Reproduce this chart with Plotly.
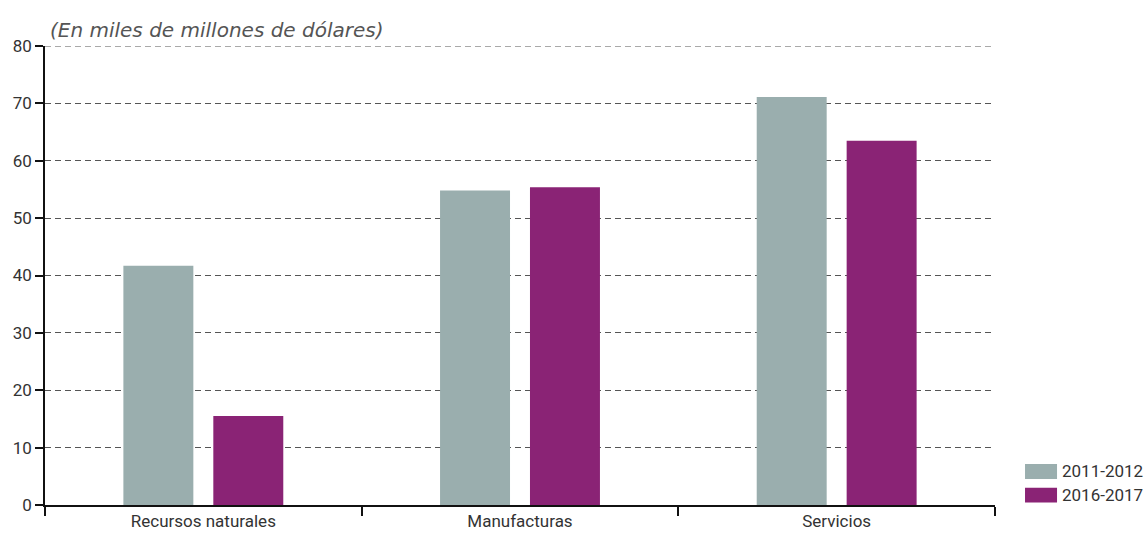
import plotly.graph_objects as go

categories = ["Recursos naturales", "Manufacturas", "Servicios"]
series_names = ["2011-2012", "2016-2017"]
values_2011_2012 = [41.7, 54.8, 71.1]
values_2016_2017 = [15.5, 55.4, 63.5]
y_ticks = [0, 10, 20, 30, 40, 50, 60, 70, 80]

colors = ["#9aaeae", "#8a2375"]
label_family = "Liberation Sans Narrow, Roboto, sans-serif"
tick_font = dict(family=label_family, size=17, color="#333333")
grid_color = "#555555"
grid_dash = "6px,4px"

fig = go.Figure()
for name, vals, col in zip(series_names, [values_2011_2012, values_2016_2017], colors):
    fig.add_trace(go.Bar(x=categories, y=vals, name=name, showlegend=False,
                         marker=dict(color=col, line=dict(width=0))))

# Hand-built legend at the lower right, outside the plotting area
legend_shapes = []
legend_notes = []
row_centers = [0.0730, 0.0215]
for name, col, yc in zip(series_names, colors, row_centers):
    legend_shapes.append(dict(
        type="rect", xref="paper", yref="paper",
        x0=1.0316, x1=1.0653, y0=yc - 0.0161, y1=yc + 0.0161,
        fillcolor=col, line=dict(width=0), layer="above",
    ))
    legend_notes.append(dict(
        text=name, xref="paper", yref="paper",
        x=1.0684, y=yc, xanchor="left", yanchor="middle",
        showarrow=False,
        font=dict(family=label_family, size=17, color="#333333"),
    ))

# Dashed line at the top of the value axis (grid line at 80)
top_line = dict(
    type="line", xref="paper", yref="y",
    x0=0, x1=1, y0=y_ticks[-1], y1=y_ticks[-1],
    line=dict(color=grid_color, width=1, dash=grid_dash), layer="below",
)

fig.update_layout(
    width=1147,
    height=543,
    margin=dict(l=45, r=152, t=46, b=31),
    paper_bgcolor="white",
    plot_bgcolor="white",
    barmode="group",
    bargap=0.432,
    bargroupgap=0.222,
    showlegend=False,
    shapes=legend_shapes + [top_line],
    annotations=[
        dict(
            text="<i>(En miles de millones de dólares)</i>",
            xref="paper", yref="paper",
            x=0.003, y=1.0, xanchor="left", yanchor="bottom",
            yshift=2,
            showarrow=False,
            font=dict(family="DejaVu Sans, sans-serif", size=20, color="#555555"),
        )
    ] + legend_notes,
)

fig.update_xaxes(
    type="category",
    tickson="boundaries",
    ticks="outside",
    ticklen=9,
    tickwidth=1.5,
    tickcolor="#111111",
    showline=True,
    linecolor="#111111",
    linewidth=1.5,
    showgrid=False,
    tickfont=tick_font,
)

fig.update_yaxes(
    range=[0, 80],
    tickvals=y_ticks,
    ticks="outside",
    ticklen=8,
    tickwidth=1.5,
    tickcolor="#111111",
    showline=True,
    linecolor="#111111",
    linewidth=1.5,
    showgrid=True,
    gridcolor=grid_color,
    gridwidth=1,
    griddash=grid_dash,
    zeroline=False,
    tickfont=tick_font,
)

fig.write_html("out.html")
